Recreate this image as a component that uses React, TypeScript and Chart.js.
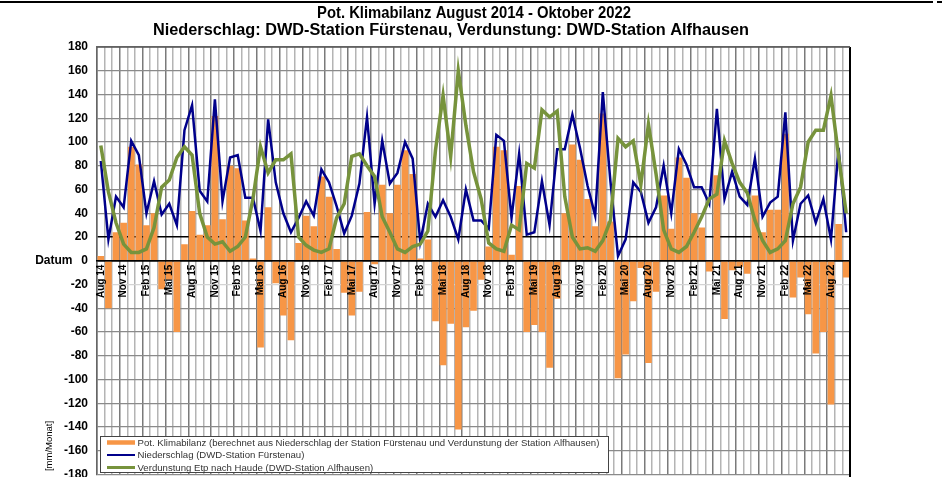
import React, { useEffect, useRef } from "react";
import { Chart, registerables } from "chart.js";

Chart.register(...registerables);

// ---- data ----
const MONTH_NAMES = ["Jan", "Feb", "Mrz", "Apr", "Mai", "Jun", "Jul", "Aug", "Sep", "Okt", "Nov", "Dez"];
const categories: string[] = [];
for (let y = 2014; y <= 2022; y++) {
  for (let m = 0; m < 12; m++) {
    if (y === 2014 && m < 7) continue;
    if (y === 2022 && m > 9) continue;
    categories.push(MONTH_NAMES[m] + " " + String(y).slice(2));
  }
}

const klimabilanz = [
  4, -40, 24, 32, 96, 81, 30, 40, -24, -16, -60, 14, 42, 22, 30, 122, 35, 80, 78, 34,
  2, -73, 45, -19, -46, -67, 15, 38, 29, 71, 54, 10, -27, -46, -26, 41, -3, 64, 40, 64,
  93, 73, 2, 18, -51, -88, -53, -142, -56, -42, -16, 12, 96, 93, 5, 63, -60, -54, -60, -90,
  -32, 40, 98, 85, 52, 29, 124, 33, -99, -79, -34, -6, -86, -26, 55, 27, 87, 70, 40, 28,
  -9, 72, -49, -8, -5, -11, 55, 24, 43, 43, 107, -31, -14, -45, -78, -60, -121, 31, -14,
];

const niederschlag = [
  84, 18, 54, 45, 101, 89, 40, 67, 39, 48, 30, 110, 131, 59, 50, 136, 50, 87, 89, 53,
  53, 25, 119, 66, 40, 24, 36, 50, 38, 77, 66, 46, 23, 38, 65, 121, 48, 101, 65, 74,
  100, 86, 16, 48, 37, 51, 37, 18, 60, 34, 34, 27, 106, 101, 36, 90, 22, 24, 67, 30,
  94, 94, 123, 95, 63, 38, 142, 67, 4, 18, 66, 58, 32, 45, 80, 40, 94, 81, 62, 62,
  48, 128, 52, 75, 54, 47, 86, 37, 49, 54, 125, 17, 48, 55, 32, 52, 18, 95, 24,
];

const verdunstung = [
  97, 58, 32, 14, 7, 7, 10, 28, 62, 68, 87, 96, 89, 40, 20, 14, 16, 8, 12, 20,
  52, 96, 74, 85, 85, 90, 20, 13, 9, 7, 10, 36, 48, 88, 90, 80, 71, 37, 24, 10,
  7, 12, 14, 25, 93, 139, 88, 160, 114, 75, 52, 15, 10, 8, 30, 26, 82, 78, 127, 121,
  126, 54, 20, 10, 11, 8, 17, 34, 103, 96, 101, 64, 115, 73, 26, 10, 7, 12, 24, 37,
  52, 56, 101, 82, 66, 57, 34, 17, 7, 10, 17, 48, 62, 100, 110, 110, 139, 88, 40,
];

const titleLines = [
  "Pot. Klimabilanz August 2014 - Oktober 2022",
  "Niederschlag: DWD-Station Fürstenau, Verdunstung: DWD-Station Alfhausen",
];
const legendLabels = [
  "Pot. Klimabilanz (berechnet aus Niederschlag der Station Fürstenau und Verdunstung der Station Alfhausen)",
  "Niederschlag (DWD-Station Fürstenau)",
  "Verdunstung Etp nach Haude (DWD-Station Alfhausen)",
];

const ORANGE = "#F79646";
const NAVY = "#00008B";
const GREEN = "#77933C";
const FONT = "'Liberation Sans', Arial, sans-serif";

const decorPlugin = {
  id: "decor",
  beforeDraw(chart: any) {
    const ctx = chart.ctx;
    ctx.save();
    ctx.fillStyle = "#ffffff";
    ctx.fillRect(0, 0, chart.width, chart.height);
    ctx.restore();
  },
  afterDraw(chart: any) {
    const ctx = chart.ctx;
    const a = chart.chartArea;
    ctx.save();
    // top frame line of the picture
    ctx.fillStyle = "#000";
    ctx.fillRect(0, 1, 933, 2);
    ctx.fillRect(937, 1, 5, 2);

    // titles
    ctx.fillStyle = "#000";
    ctx.textAlign = "center";
    ctx.textBaseline = "middle";
    ctx.font = "bold 16.3px " + FONT;
    ctx.fillText(titleLines[0], 474, 14, 314);
    ctx.fillText(titleLines[1], 451, 31);

    // plot frame
    ctx.strokeStyle = "#000";
    ctx.lineWidth = 2;
    ctx.beginPath();
    ctx.moveTo(a.right, a.top);
    ctx.lineTo(a.right, a.bottom + 3);
    ctx.stroke();
    ctx.strokeStyle = "#555";
    ctx.lineWidth = 1.5;
    ctx.beginPath();
    ctx.moveTo(a.left, a.top);
    ctx.lineTo(a.right, a.top);
    ctx.stroke();

    // Datum
    const y0 = chart.scales.y.getPixelForValue(0);
    ctx.font = "bold 12px " + FONT;
    ctx.textAlign = "right";
    ctx.fillText("Datum", 72.5, y0);

    // unit label
    ctx.save();
    ctx.translate(49, 446);
    ctx.rotate(-Math.PI / 2);
    ctx.font = "9.5px " + FONT;
    ctx.textAlign = "center";
    ctx.fillText("[mm/Monat]", 0, 0);
    ctx.restore();

    // legend
    const lx = 100.5, ly = 436.5, lw = 508, lh = 36;
    ctx.fillStyle = "#fff";
    ctx.fillRect(lx, ly, lw, lh);
    ctx.strokeStyle = "#444";
    ctx.lineWidth = 1;
    ctx.strokeRect(lx, ly, lw, lh);
    const rows = [442.5, 455, 467.5];
    const cols = [ORANGE, NAVY, GREEN];
    const widths = [4.5, 2, 3];
    ctx.font = "9.6px " + FONT;
    ctx.textAlign = "left";
    ctx.textBaseline = "middle";
    for (let i = 0; i < 3; i++) {
      ctx.strokeStyle = cols[i];
      ctx.lineWidth = widths[i];
      ctx.beginPath();
      ctx.moveTo(107, rows[i]);
      ctx.lineTo(135, rows[i]);
      ctx.stroke();
      ctx.fillStyle = "#333";
      ctx.fillText(legendLabels[i], 137.5, rows[i] + 0.5);
    }
    ctx.restore();
  },
};

export default function App() {
  const canvasRef = useRef<HTMLCanvasElement | null>(null);

  useEffect(() => {
    if (!canvasRef.current) return;
    const chart = new Chart(canvasRef.current, {
      type: "bar",
      data: {
        labels: categories,
        datasets: [
          {
            type: "line",
            label: legendLabels[2],
            data: verdunstung,
            borderColor: GREEN,
            borderWidth: 3.5,
            pointRadius: 0,
            tension: 0,
            order: 0,
          } as any,
          {
            type: "line",
            label: legendLabels[1],
            data: niederschlag,
            borderColor: NAVY,
            borderWidth: 2.5,
            pointRadius: 0,
            tension: 0,
            order: 1,
          } as any,
          {
            type: "bar",
            label: legendLabels[0],
            data: klimabilanz,
            backgroundColor: ORANGE,
            borderWidth: 0,
            barPercentage: 0.88,
            categoryPercentage: 1,
            order: 2,
          },
        ],
      },
      options: {
        responsive: false,
        animation: false,
        devicePixelRatio: 1,
        layout: { padding: { left: 0, top: 47, right: 92, bottom: 2.5 } },
        plugins: {
          legend: { display: false },
          tooltip: { enabled: false },
          title: { display: false },
        },
        scales: {
          x: {
            type: "category",
            position: { y: 0 } as any,
            offset: true,
            grid: {
              offset: true,
              drawTicks: false,
              lineWidth: 1.5,
              color: (c: any) =>
                c.index !== undefined && c.index % 3 === 0 ? "#7a7a7a" : "#b4b4b4",
            },
            border: { display: true, color: "#000", width: 1.5, z: 1 } as any,
            ticks: {
              autoSkip: false,
              minRotation: 90,
              maxRotation: 90,
              padding: 4,
              z: 1,
              color: "#000",
              font: { family: FONT, size: 10, weight: "bold" },
              callback: (_v: any, i: number) => (i % 3 === 0 ? categories[i] : ""),
            },
            afterFit: (s: any) => {
              s.paddingLeft = 0;
              s.paddingRight = 0;
            },
          },
          y: {
            min: -180,
            max: 180,
            ticks: {
              stepSize: 20,
              padding: 9,
              color: "#000",
              font: { family: FONT, size: 12, weight: "bold" },
            },
            grid: {
              drawTicks: false,
              lineWidth: (c: any) => (c.tick && (c.tick.value === 0 || c.tick.value === 20) ? 1.5 : 1.2),
              color: (c: any) => {
                const v = c.tick ? c.tick.value : null;
                if (v === 0 || v === 20) return "#000";
                if (v === -20) return "#d4d4d4";
                return "#8a8a8a";
              },
            },
            border: { display: true, color: "#666", width: 1.5 },
            afterFit: (s: any) => {
              s.width = 97;
              s.paddingTop = 0;
              s.paddingBottom = 0;
            },
          },
        },
      } as any,
      plugins: [decorPlugin],
    });
    return () => chart.destroy();
  }, []);

  return (
    <div style={{ position: "absolute", left: 0, top: 0, width: 942, height: 477 }}>
      <canvas ref={canvasRef} width={942} height={477} style={{ display: "block" }} />
    </div>
  );
}
